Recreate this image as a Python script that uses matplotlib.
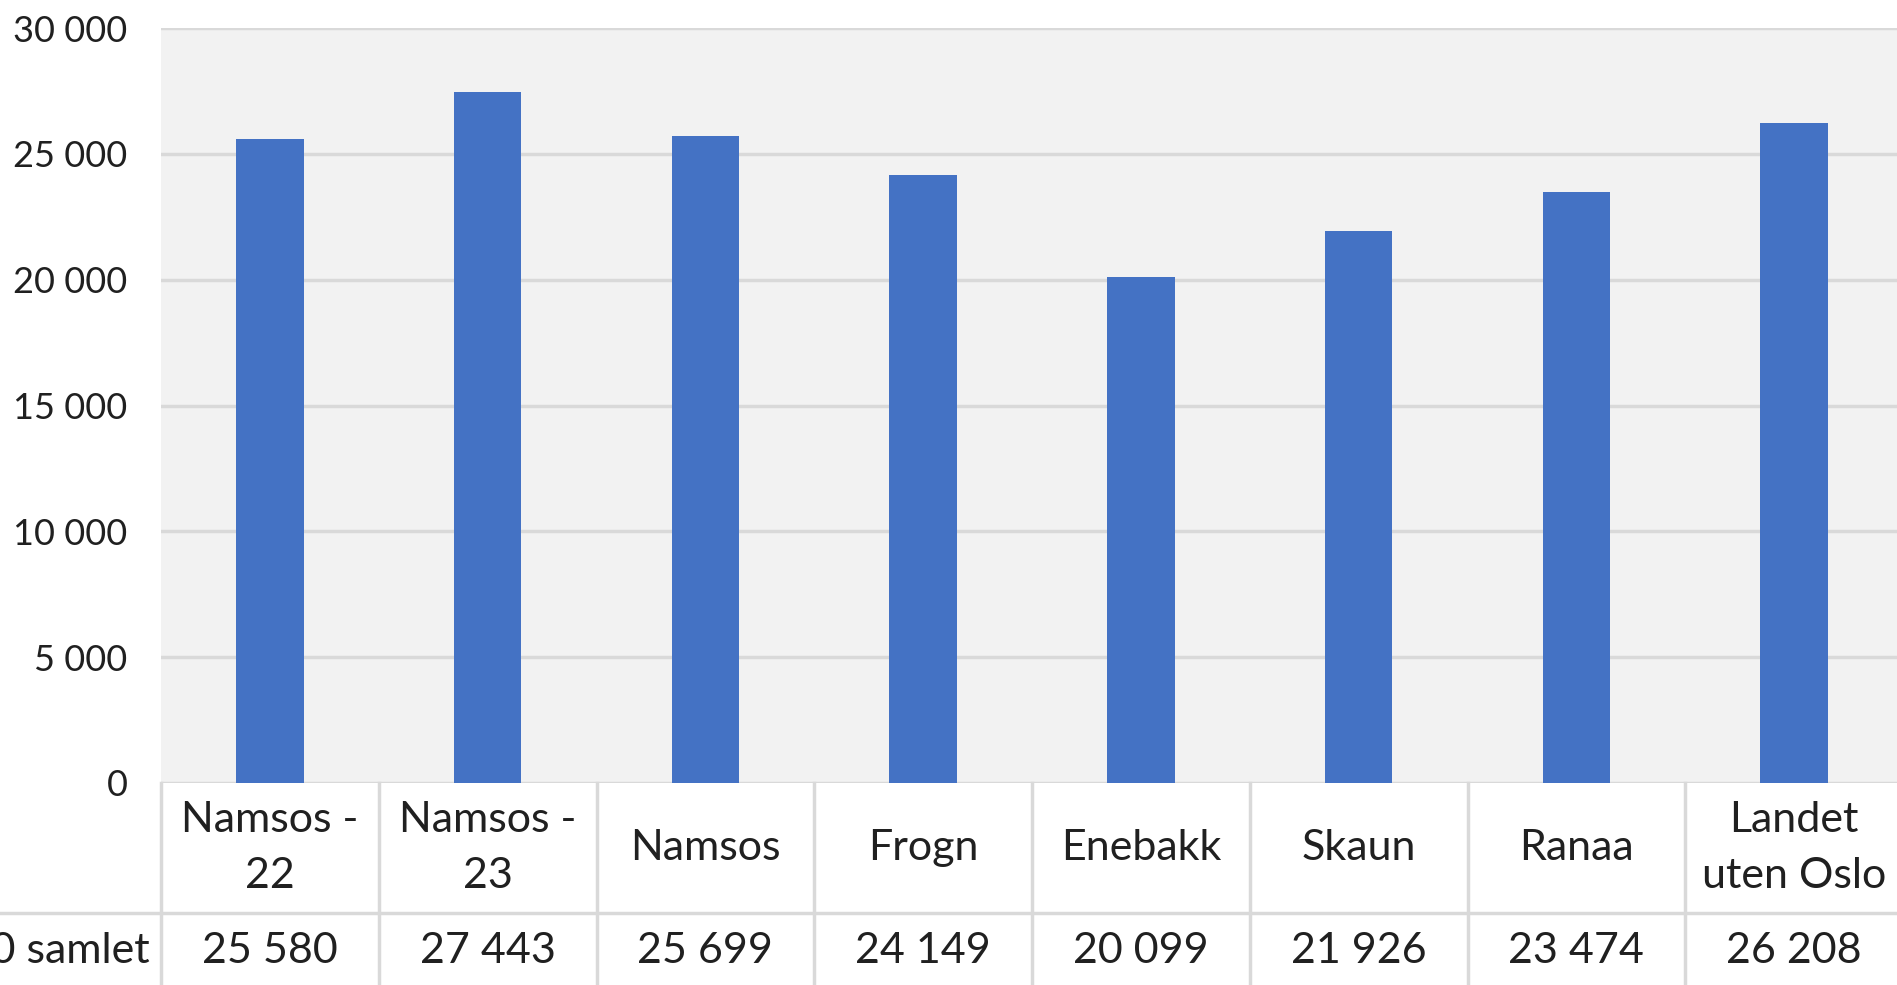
import matplotlib
matplotlib.use("Agg")
import matplotlib.pyplot as plt

plt.rcParams['font.family'] = ['Lato', 'DejaVu Sans']

categories = ["Namsos -\n22", "Namsos -\n23", "Namsos", "Frogn", "Enebakk",
              "Skaun", "Ranaa", "Landet\nuten Oslo"]
values = [25580, 27443, 25699, 24149, 20099, 21926, 23474, 26208]
row_label = "2020 samlet"
yticks = [0, 5000, 10000, 15000, 20000, 25000, 30000]

W, H = 1897, 985
fig = plt.figure(figsize=(W / 100, H / 100), dpi=100)
left, right, top, bottom = 161, 1903, 28, 783
ax = fig.add_axes([left / W, 1 - bottom / H, (right - left) / W, (bottom - top) / H])
ax.set_facecolor("#F2F2F2")

grid = "#D9D9D9"
x = range(len(categories))
ax.bar(x, values, width=0.31, color="#4472C4", zorder=3)
ax.set_xlim(-0.5, len(categories) - 0.5)
ax.set_ylim(0, 30000)
ax.set_yticks(yticks)
ax.set_yticklabels([f"{v:,}".replace(",", " ") for v in yticks], fontsize=26, color="#202020")
ax.tick_params(axis="y", length=0, pad=24)
ax.set_xticks([])
for s in ax.spines.values():
    s.set_visible(False)
for v in yticks:
    ax.axhline(v, color=grid, lw=2.5, zorder=1)

# data table under the plot
tr = ax.get_xaxis_transform()
row1 = -130 / (bottom - top)
cat_w = (right - left) / len(categories)
for i in range(len(categories) + 1):
    ax.plot([i - 0.5, i - 0.5], [0, -0.4], color=grid, lw=2.5, transform=tr, clip_on=False)
ax.plot([-0.5 - left / cat_w, len(categories)], [row1, row1], color=grid, lw=2.5,
        transform=tr, clip_on=False)

for i, (c, v) in enumerate(zip(categories, values)):
    ax.text(i, row1 / 2, c, transform=tr, ha="center", va="center", fontsize=31,
            linespacing=1.6, color="#202020")
    ax.text(i, -168 / (bottom - top), f"{v:,}".replace(",", " "), transform=tr,
            ha="center", va="center", fontsize=31, color="#202020")
ax.text(-0.5 - 11 / cat_w, -168 / (bottom - top), row_label, transform=tr,
        ha="right", va="center", fontsize=31, color="#202020")

fig.savefig("out.png", dpi=100)
